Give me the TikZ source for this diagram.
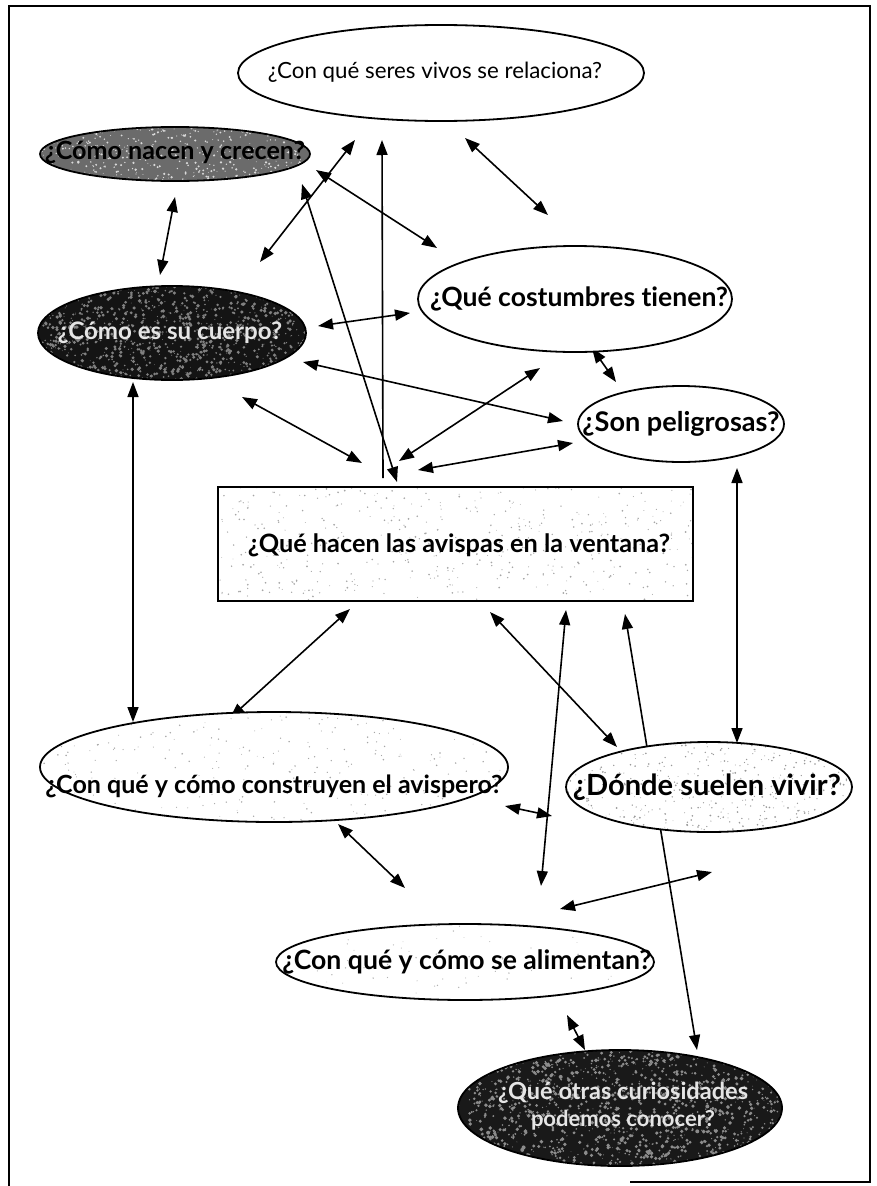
\documentclass[tikz,border=0pt]{standalone}
\usepackage{fontspec}
\usepackage{graphicx}
\setmainfont{Lato}[Ligatures={NoCommon}]
\usetikzlibrary{arrows.meta,shapes.geometric,calc}
% question text squeezed or stretched to a given width (in pt)
\newcommand\fitto[2]{\resizebox{#1pt}{!}{\bfseries #2}}
\newcommand\fitthin[2]{\resizebox{#1pt}{!}{#2}}
\begin{document}
\begin{tikzpicture}[x=1pt,y=-1pt]
\pgfmathsetseed{4242}
\tikzset{
  qtip/.tip={Triangle[length=15pt,width=11pt]},
  link/.style={line width=1.6pt,qtip-qtip},
  onelink/.style={line width=1.6pt,-qtip},
  bubble/.style={ellipse,draw,line width=1.8pt,inner sep=0pt,fill=white},
  qtext/.style={inner sep=0pt,align=center},
  % mottled print texture inside a shape
  speckle/.style n args={3}{path picture={
    \foreach \k in {1,...,#3}{
      \pgfmathsetmacro\sx{rnd}\pgfmathsetmacro\sy{rnd}\pgfmathsetmacro\sr{0.4+#2*rnd}
      \fill[#1] let \p1=(path picture bounding box.south west),
                    \p2=(path picture bounding box.north east)
        in (\x1+\sx*\x2-\sx*\x1,\y1+\sy*\y2-\sy*\y1) circle[radius=\sr pt];
    }}},
}
\useasboundingbox (0,0) rectangle (876,1186);
\fill[white] (0,0) rectangle (876,1186);

% page frame
\draw[line width=1.2pt] (9,1186) -- (9,6) -- (870,6) -- (870,1182) -- (630,1182);

% connector end points
\coordinate (a1) at (175,197);  \coordinate (a2) at (160,275);
\coordinate (b1) at (260,262);  \coordinate (b2) at (355,140);
\coordinate (c1) at (316,170);  \coordinate (c2) at (437,248);
\coordinate (d1) at (302,184);  \coordinate (d2) at (397,482);
\coordinate (e1) at (383,478);  \coordinate (e2) at (382,140);
\coordinate (f1) at (465,138);  \coordinate (f2) at (548,215);
\coordinate (g1) at (318,326);  \coordinate (g2) at (410,313);
\coordinate (h1) at (303,362);  \coordinate (h2) at (563,421);
\coordinate (i1) at (242,397);  \coordinate (i2) at (362,463);
\coordinate (j1) at (540,368);  \coordinate (j2) at (399,461);
\coordinate (k1) at (573,443);  \coordinate (k2) at (418,470);
\coordinate (l1) at (592,348);  \coordinate (l2) at (616,382);
\coordinate (m1) at (133,382);  \coordinate (m2) at (133,722);
\coordinate (n1) at (737,468);  \coordinate (n2) at (737,743);
\coordinate (o1) at (350,609);  \coordinate (o2) at (230,718);
\coordinate (p1) at (490,612);  \coordinate (p2) at (617,747);
\coordinate (q1) at (566,610);  \coordinate (q2) at (541,886);
\coordinate (r1) at (625,614);  \coordinate (r2) at (697,1050);
\coordinate (s1) at (505,806);  \coordinate (s2) at (552,816);
\coordinate (t1) at (338,824);  \coordinate (t2) at (405,888);
\coordinate (u1) at (560,909);  \coordinate (u2) at (712,872);
\coordinate (v1) at (567,1015); \coordinate (v2) at (585,1050);

% connectors
\draw[link] (a1) -- (a2);
\draw[link] (b1) -- (b2);
\draw[link] (c1) -- (c2);
\draw[link] (d1) -- (d2);
\draw[onelink] (e1) -- (e2);
\draw[link] (f1) -- (f2);
\draw[link] (g1) -- (g2);
\draw[link] (h1) -- (h2);
\draw[link] (i1) -- (i2);
\draw[link] (j1) -- (j2);
\draw[link] (k1) -- (k2);
\draw[link] (l1) -- (l2);
\draw[link] (m1) -- (m2);
\draw[link] (n1) -- (n2);
\draw[link] (o1) -- (o2);
\draw[link] (p1) -- (p2);
\draw[link] (q1) -- (q2);
\draw[link] (r1) -- (r2);
\draw[link] (s1) -- (s2);
\draw[link] (t1) -- (t2);
\draw[link] (u1) -- (u2);
\draw[link] (v1) -- (v2);

% question shapes
\node[bubble, minimum width=406pt, minimum height=96pt] (rel) at (441,73) {};
\node[bubble, fill=black!58, speckle={white!85!black}{0.9}{450}, minimum width=270pt, minimum height=54pt] (nac) at (175,154) {};
\node[bubble, fill=black!92, speckle={black!50}{1.5}{1100}, minimum width=268pt, minimum height=94pt] (cue) at (172,333) {};
\node[bubble, minimum width=314pt, minimum height=106pt] (cos) at (575,299) {};
\node[bubble, minimum width=206pt, minimum height=76pt] (pel) at (681,424) {};
\node[draw, line width=2pt, fill=white, speckle={black!35}{0.6}{450}, minimum width=475pt, minimum height=114pt, inner sep=0pt] (win) at (455.5,544) {};
\node[bubble, speckle={black!35}{0.5}{320}, minimum width=468pt, minimum height=110pt] (con) at (274,767) {};
\node[bubble, speckle={black!40}{0.6}{420}, minimum width=286pt, minimum height=90pt] (don) at (709,787) {};
\node[bubble, speckle={black!30}{0.4}{90}, minimum width=378pt, minimum height=76pt] (ali) at (465,962) {};
\node[bubble, fill=black!90, speckle={black!45}{1.6}{1400}, minimum width=324pt, minimum height=116pt] (cur) at (620,1108) {};

% question texts
\node[qtext] (rel-q) at (435,72) {\fitthin{334}{¿Con qué seres vivos se relaciona?}};
\node[qtext] (nac-q) at (175,153) {\fitto{260}{¿Cómo nacen y crecen?}};
\node[qtext, text=black!10] (cue-q) at (170,333) {\fitto{224}{¿Cómo es su cuerpo?}};
\node[qtext] (cos-q) at (579,299) {\fitto{298}{¿Qué costumbres tienen?}};
\node[qtext] (pel-q) at (681,424) {\fitto{197}{¿Son peligrosas?}};
\node[qtext] (win-q) at (459,545) {\fitto{422}{¿Qué hacen las avispas en la ventana?}};
\node[qtext] (con-q) at (274,786) {\fitto{457}{¿Con qué y cómo construyen el avispero?}};
\node[qtext] (don-q) at (707,787) {\fitto{268}{¿Dónde suelen vivir?}};
\node[qtext] (ali-q) at (467,962) {\fitto{369}{¿Con qué y cómo se alimentan?}};
\node[qtext, text=black!10] (cur-q) at (623,1106) {\fitto{250}{¿Qué otras curiosidades}\\[5pt]\fitto{184}{podemos conocer?}};
\end{tikzpicture}
\end{document}
